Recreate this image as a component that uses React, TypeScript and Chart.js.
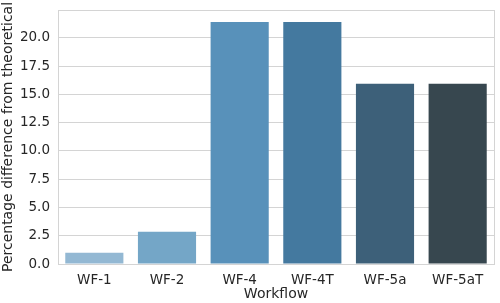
import React, { useEffect, useRef } from "react";
import { Chart, registerables } from "chart.js";

Chart.register(...registerables);

const categories = ["WF-1", "WF-2", "WF-4", "WF-4T", "WF-5a", "WF-5aT"];
const values = [1.0, 2.86, 21.4, 21.4, 15.95, 15.95];
const barColors = ["#93b8d3", "#74a6c7", "#5891ba", "#44799f", "#3d6079", "#37474f"];
const yTicks = [0, 2.5, 5, 7.5, 10, 12.5, 15, 17.5, 20];
const yMax = 22.47;

const FONT = "'DejaVu Sans', sans-serif";

export default function App() {
  const ref = useRef<HTMLCanvasElement | null>(null);
  useEffect(() => {
    document.body.style.margin = "0";
    const frame = {
      id: "frame",
      afterDatasetsDraw(chart: any) {
        const { ctx, chartArea } = chart;
        ctx.save();
        ctx.strokeStyle = "#d4d4d4";
        ctx.lineWidth = 1;
        ctx.strokeRect(
          Math.round(chartArea.left) + 0.5,
          Math.round(chartArea.top) + 0.5,
          Math.round(chartArea.right - chartArea.left),
          Math.round(chartArea.bottom - chartArea.top)
        );
        ctx.restore();
      },
    };
    const chart = new Chart(ref.current!, {
      type: "bar",
      data: {
        labels: categories,
        datasets: [
          {
            data: values,
            backgroundColor: barColors,
            borderWidth: 0,
            categoryPercentage: 1.0,
            barPercentage: 0.8,
          },
        ],
      },
      options: {
        animation: false,
        responsive: false,
        devicePixelRatio: 1,
        layout: { padding: { left: 0, right: 6, top: 10, bottom: 0 } },
        plugins: { legend: { display: false }, tooltip: { enabled: false } },
        scales: {
          x: {
            grid: { display: false, drawTicks: false },
            border: { display: false },
            ticks: { color: "#262626", font: { family: FONT, size: 13.5 }, padding: 8 },
            title: {
              display: true,
              text: "Workflow",
              color: "#262626",
              font: { family: FONT, size: 14 },
              padding: { top: 1, bottom: 0 },
            },
            afterFit(scale: any) {
              scale.height = 39;
              scale.paddingLeft = 0;
              scale.paddingRight = 0;
            },
          },
          y: {
            min: 0,
            max: yMax,
            afterBuildTicks(scale: any) {
              scale.ticks = yTicks.map((v) => ({ value: v }));
            },
            grid: { color: "#d4d4d4", drawTicks: false, lineWidth: 1 },
            border: { display: false },
            ticks: {
              color: "#262626",
              font: { family: FONT, size: 13.5 },
              padding: 8,
              callback: (v: any) => Number(v).toFixed(1),
            },
            title: {
              display: true,
              text: "Percentage difference from theoretical",
              color: "#262626",
              font: { family: FONT, size: 14 },
              padding: { top: 0, bottom: 2 },
            },
            afterFit(scale: any) {
              scale.width = 58;
              scale.paddingTop = 0;
              scale.paddingBottom = 0;
            },
          },
        },
      },
      plugins: [frame],
    });
    return () => chart.destroy();
  }, []);
  return <canvas ref={ref} width={500} height={303} style={{ display: "block" }} />;
}
